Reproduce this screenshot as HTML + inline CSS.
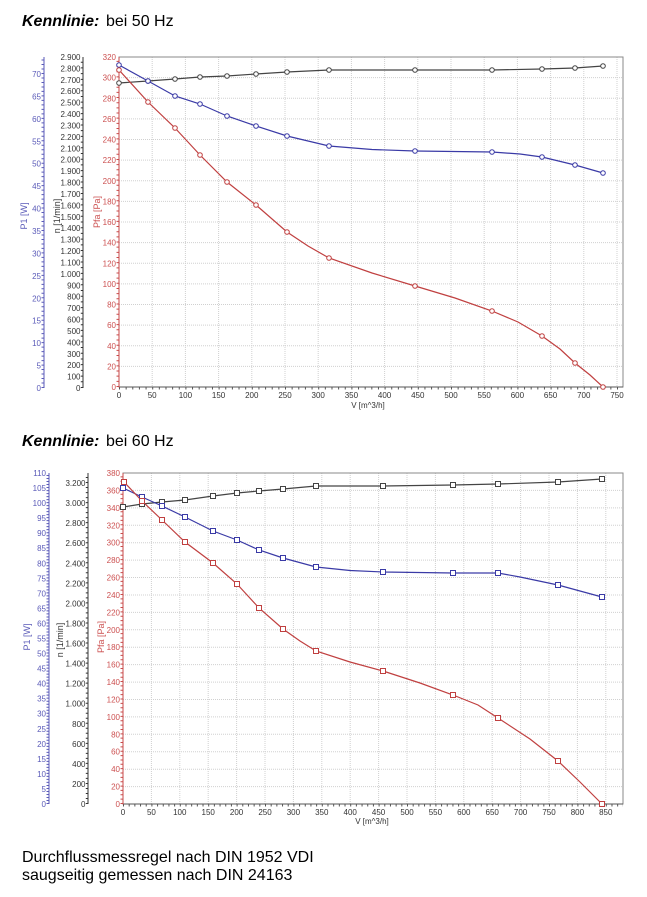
<!DOCTYPE html>
<html><head><meta charset="utf-8"><style>
html,body{margin:0;padding:0;background:#fff;}
svg{display:block;}
text{font-family:"Liberation Sans",Arial,sans-serif;}
.t{font-size:8px;}
.pb{fill:#5a5ab8;}
.nb{fill:#333;}
.rb{fill:#cc5050;}
.e{text-anchor:end;}
.m{text-anchor:middle;}
.g{stroke:#d0d0d0;stroke-width:1;stroke-dasharray:1 1;fill:none;}
</style></head><body>
<svg width="647" height="897" viewBox="0 0 647 897" xmlns="http://www.w3.org/2000/svg">
<rect width="647" height="897" fill="#fff"/>

<!-- Titles -->
<text x="22" y="26" font-size="16"><tspan font-weight="bold" font-style="italic">Kennlinie:</tspan><tspan x="106">bei 50 Hz</tspan></text>
<text x="22" y="446" font-size="16"><tspan font-weight="bold" font-style="italic">Kennlinie:</tspan><tspan x="106">bei 60 Hz</tspan></text>
<text x="22" y="862" font-size="16">Durchflussmessregel nach DIN 1952 VDI</text>
<text x="22" y="880" font-size="16">saugseitig gemessen nach DIN 24163</text>

<!-- ================= TOP CHART ================= -->
<g class="g">
<path d="M152.2 57V387M185.4 57V387M218.6 57V387M251.8 57V387M285 57V387M318.2 57V387M351.4 57V387M384.6 57V387M417.8 57V387M451 57V387M484.2 57V387M517.4 57V387M550.6 57V387M583.8 57V387M617 57V387"/>
<path d="M119 366.4H623M119 345.8H623M119 325.1H623M119 304.5H623M119 283.9H623M119 263.3H623M119 242.6H623M119 222H623M119 201.4H623M119 180.8H623M119 160.1H623M119 139.5H623M119 118.9H623M119 98.3H623M119 77.6H623"/>
</g>
<rect x="119" y="57" width="504" height="330" fill="none" stroke="#8a8a8a" stroke-width="1"/>
<line x1="119" y1="387" x2="623" y2="387" stroke="#555" stroke-width="1"/>
<line x1="119" y1="57" x2="119" y2="387.5" stroke="#c84a4a" stroke-width="1"/>
<line x1="117.5" y1="387" x2="117.5" y2="57" stroke="#c84a4a" stroke-width="2" stroke-dasharray="1 4.16"/>
<line x1="119" y1="388.5" x2="623" y2="388.5" stroke="#555" stroke-width="2" stroke-dasharray="1 5.64"/>
<!-- P1 axis -->
<line x1="44" y1="57" x2="44" y2="388" stroke="#5a5ab8" stroke-width="1"/>
<line x1="42.5" y1="388" x2="42.5" y2="57" stroke="#5a5ab8" stroke-width="2" stroke-dasharray="1 3.486"/>
<!-- n axis -->
<line x1="83" y1="57" x2="83" y2="388" stroke="#333" stroke-width="1"/>
<line x1="81.8" y1="388" x2="81.8" y2="57" stroke="#333" stroke-width="2" stroke-dasharray="1 4.707"/>

<g class="t pb e">
<text x="41" y="391">0</text><text x="41" y="368.6">5</text><text x="41" y="346.1">10</text><text x="41" y="323.7">15</text><text x="41" y="301.3">20</text><text x="41" y="278.9">25</text><text x="41" y="256.4">30</text><text x="41" y="234">35</text><text x="41" y="211.6">40</text><text x="41" y="189.1">45</text><text x="41" y="166.7">50</text><text x="41" y="144.3">55</text><text x="41" y="121.8">60</text><text x="41" y="99.4">65</text><text x="41" y="77">70</text>
</g>
<g class="t nb e">
<text x="80.5" y="391">0</text><text x="80.5" y="379.6">100</text><text x="80.5" y="368.2">200</text><text x="80.5" y="356.8">300</text><text x="80.5" y="345.3">400</text><text x="80.5" y="333.9">500</text><text x="80.5" y="322.5">600</text><text x="80.5" y="311.1">700</text><text x="80.5" y="299.7">800</text><text x="80.5" y="288.3">900</text><text x="80.5" y="276.9">1.000</text><text x="80.5" y="265.4">1.100</text><text x="80.5" y="254">1.200</text><text x="80.5" y="242.6">1.300</text><text x="80.5" y="231.2">1.400</text><text x="80.5" y="219.8">1.500</text><text x="80.5" y="208.4">1.600</text><text x="80.5" y="197">1.700</text><text x="80.5" y="185.5">1.800</text><text x="80.5" y="174.1">1.900</text><text x="80.5" y="162.7">2.000</text><text x="80.5" y="151.3">2.100</text><text x="80.5" y="139.9">2.200</text><text x="80.5" y="128.5">2.300</text><text x="80.5" y="117.1">2.400</text><text x="80.5" y="105.7">2.500</text><text x="80.5" y="94.2">2.600</text><text x="80.5" y="82.8">2.700</text><text x="80.5" y="71.4">2.800</text><text x="80.5" y="60">2.900</text>
</g>
<g class="t rb e">
<text x="116" y="390">0</text><text x="116" y="369.4">20</text><text x="116" y="348.8">40</text><text x="116" y="328.1">60</text><text x="116" y="307.5">80</text><text x="116" y="286.9">100</text><text x="116" y="266.3">120</text><text x="116" y="245.6">140</text><text x="116" y="225">160</text><text x="116" y="204.4">180</text><text x="116" y="183.8">200</text><text x="116" y="163.1">220</text><text x="116" y="142.5">240</text><text x="116" y="121.9">260</text><text x="116" y="101.3">280</text><text x="116" y="80.6">300</text><text x="116" y="60">320</text>
</g>
<g class="t nb m">
<text x="119" y="398">0</text><text x="152.2" y="398">50</text><text x="185.4" y="398">100</text><text x="218.6" y="398">150</text><text x="251.8" y="398">200</text><text x="285" y="398">250</text><text x="318.2" y="398">300</text><text x="351.4" y="398">350</text><text x="384.6" y="398">400</text><text x="417.8" y="398">450</text><text x="451" y="398">500</text><text x="484.2" y="398">550</text><text x="517.4" y="398">600</text><text x="550.6" y="398">650</text><text x="583.8" y="398">700</text><text x="617" y="398">750</text>
<text x="368" y="408">V [m^3/h]</text>
</g>
<text transform="translate(27,216) rotate(-90)" class="m" font-size="9" fill="#5a5ab8">P1 [W]</text>
<text transform="translate(60,216) rotate(-90)" class="m" font-size="9" fill="#333">n [1/min]</text>
<text transform="translate(100,212) rotate(-90)" class="m" font-size="9" fill="#cc5050">Pfa [Pa]</text>

<!-- curves top -->
<polyline fill="none" stroke="#444" stroke-width="1.2" points="119,83 148,81 175,79 200,77 227,76 256,74 287,72 329,70 415,70 492,70 542,69 575,68 603,66"/>
<polyline fill="none" stroke="#3a3aa6" stroke-width="1.2" points="119,65 148,81 175,96 200,104 227,116 256,126 287,136 329,146 372,149.5 415,151 492,152 520,154 542,157 575,165 603,173"/>
<polyline fill="none" stroke="#c04040" stroke-width="1.2" points="119,70 148,102 175,128 200,155 227,182 256,205 287,232 308,246 329,258 372,273 415,286 455,298 492,311 518,322 542,336 560,349 575,363 590,375 603,387"/>
<g fill="#fff" stroke-width="1">
<g stroke="#444"><circle cx="119" cy="83" r="2.3"/><circle cx="148" cy="81" r="2.3"/><circle cx="175" cy="79" r="2.3"/><circle cx="200" cy="77" r="2.3"/><circle cx="227" cy="76" r="2.3"/><circle cx="256" cy="74" r="2.3"/><circle cx="287" cy="72" r="2.3"/><circle cx="329" cy="70" r="2.3"/><circle cx="415" cy="70" r="2.3"/><circle cx="492" cy="70" r="2.3"/><circle cx="542" cy="69" r="2.3"/><circle cx="575" cy="68" r="2.3"/><circle cx="603" cy="66" r="2.3"/></g>
<g stroke="#3a3aa6"><circle cx="119" cy="65" r="2.3"/><circle cx="148" cy="81" r="2.3"/><circle cx="175" cy="96" r="2.3"/><circle cx="200" cy="104" r="2.3"/><circle cx="227" cy="116" r="2.3"/><circle cx="256" cy="126" r="2.3"/><circle cx="287" cy="136" r="2.3"/><circle cx="329" cy="146" r="2.3"/><circle cx="415" cy="151" r="2.3"/><circle cx="492" cy="152" r="2.3"/><circle cx="542" cy="157" r="2.3"/><circle cx="575" cy="165" r="2.3"/><circle cx="603" cy="173" r="2.3"/></g>
<g stroke="#c04040"><circle cx="119" cy="70" r="2.3"/><circle cx="148" cy="102" r="2.3"/><circle cx="175" cy="128" r="2.3"/><circle cx="200" cy="155" r="2.3"/><circle cx="227" cy="182" r="2.3"/><circle cx="256" cy="205" r="2.3"/><circle cx="287" cy="232" r="2.3"/><circle cx="329" cy="258" r="2.3"/><circle cx="415" cy="286" r="2.3"/><circle cx="492" cy="311" r="2.3"/><circle cx="542" cy="336" r="2.3"/><circle cx="575" cy="363" r="2.3"/><circle cx="603" cy="387" r="2.3"/></g>
</g>

<!-- ================= BOTTOM CHART ================= -->
<g class="g">
<path d="M151.4 473V804M179.8 473V804M208.2 473V804M236.6 473V804M265 473V804M293.4 473V804M321.8 473V804M350.2 473V804M378.6 473V804M407 473V804M435.4 473V804M463.8 473V804M492.2 473V804M520.6 473V804M549 473V804M577.4 473V804M605.8 473V804"/>
<path d="M123 786.6H623M123 769.2H623M123 751.7H623M123 734.3H623M123 716.9H623M123 699.5H623M123 682.1H623M123 664.6H623M123 647.2H623M123 629.8H623M123 612.4H623M123 595H623M123 577.5H623M123 560.1H623M123 542.7H623M123 525.3H623M123 507.9H623M123 490.4H623"/>
</g>
<rect x="123" y="473" width="500" height="331" fill="none" stroke="#8a8a8a" stroke-width="1"/>
<line x1="123" y1="804" x2="623" y2="804" stroke="#555" stroke-width="1"/>
<line x1="123" y1="473" x2="123" y2="804.5" stroke="#c84a4a" stroke-width="1"/>
<line x1="121.5" y1="804" x2="121.5" y2="473" stroke="#c84a4a" stroke-width="2" stroke-dasharray="1 3.355"/>
<line x1="123" y1="805.5" x2="623" y2="805.5" stroke="#555" stroke-width="2" stroke-dasharray="1 4.68"/>
<line x1="49" y1="473" x2="49" y2="804" stroke="#5a5ab8" stroke-width="1"/>
<line x1="47.5" y1="804" x2="47.5" y2="473" stroke="#5a5ab8" stroke-width="2" stroke-dasharray="1 2.009"/>
<line x1="88" y1="473" x2="88" y2="804" stroke="#333" stroke-width="1"/>
<line x1="86.8" y1="804" x2="86.8" y2="473" stroke="#333" stroke-width="2" stroke-dasharray="1 4.015"/>

<g class="t pb e">
<text x="46" y="807">0</text><text x="46" y="792">5</text><text x="46" y="776.9">10</text><text x="46" y="761.9">15</text><text x="46" y="746.8">20</text><text x="46" y="731.8">25</text><text x="46" y="716.7">30</text><text x="46" y="701.7">35</text><text x="46" y="686.6">40</text><text x="46" y="671.6">45</text><text x="46" y="656.5">50</text><text x="46" y="641.5">55</text><text x="46" y="626.5">60</text><text x="46" y="611.4">65</text><text x="46" y="596.4">70</text><text x="46" y="581.3">75</text><text x="46" y="566.3">80</text><text x="46" y="551.2">85</text><text x="46" y="536.2">90</text><text x="46" y="521.1">95</text><text x="46" y="506.1">100</text><text x="46" y="491.1">105</text><text x="46" y="476">110</text>
</g>
<g class="t nb e">
<text x="85.5" y="807">0</text><text x="85.5" y="786.9">200</text><text x="85.5" y="766.9">400</text><text x="85.5" y="746.8">600</text><text x="85.5" y="726.8">800</text><text x="85.5" y="706.7">1.000</text><text x="85.5" y="686.6">1.200</text><text x="85.5" y="666.6">1.400</text><text x="85.5" y="646.5">1.600</text><text x="85.5" y="626.5">1.800</text><text x="85.5" y="606.4">2.000</text><text x="85.5" y="586.3">2.200</text><text x="85.5" y="566.3">2.400</text><text x="85.5" y="546.2">2.600</text><text x="85.5" y="526.2">2.800</text><text x="85.5" y="506.1">3.000</text><text x="85.5" y="486">3.200</text>
</g>
<g class="t rb e">
<text x="120" y="807">0</text><text x="120" y="789.6">20</text><text x="120" y="772.2">40</text><text x="120" y="754.7">60</text><text x="120" y="737.3">80</text><text x="120" y="719.9">100</text><text x="120" y="702.5">120</text><text x="120" y="685.1">140</text><text x="120" y="667.6">160</text><text x="120" y="650.2">180</text><text x="120" y="632.8">200</text><text x="120" y="615.4">220</text><text x="120" y="598">240</text><text x="120" y="580.5">260</text><text x="120" y="563.1">280</text><text x="120" y="545.7">300</text><text x="120" y="528.3">320</text><text x="120" y="510.9">340</text><text x="120" y="493.4">360</text><text x="120" y="476">380</text>
</g>
<g class="t nb m">
<text x="123" y="815">0</text><text x="151.4" y="815">50</text><text x="179.8" y="815">100</text><text x="208.2" y="815">150</text><text x="236.6" y="815">200</text><text x="265" y="815">250</text><text x="293.4" y="815">300</text><text x="321.8" y="815">350</text><text x="350.2" y="815">400</text><text x="378.6" y="815">450</text><text x="407" y="815">500</text><text x="435.4" y="815">550</text><text x="463.8" y="815">600</text><text x="492.2" y="815">650</text><text x="520.6" y="815">700</text><text x="549" y="815">750</text><text x="577.4" y="815">800</text><text x="605.8" y="815">850</text>
<text x="372" y="824">V [m^3/h]</text>
</g>
<text transform="translate(30,637) rotate(-90)" class="m" font-size="9" fill="#5a5ab8">P1 [W]</text>
<text transform="translate(63,640) rotate(-90)" class="m" font-size="9" fill="#333">n [1/min]</text>
<text transform="translate(104,637) rotate(-90)" class="m" font-size="9" fill="#cc5050">Pfa [Pa]</text>

<polyline fill="none" stroke="#444" stroke-width="1.2" points="123,507 142,504 162,502 185,500 213,496 237,493 259,491 283,489 316,486 383,486 453,485 498,484 558,482 602,479"/>
<polyline fill="none" stroke="#3a3aa6" stroke-width="1.2" points="123,488 142,497 162,506 185,517 213,531 237,540 259,550 283,558 316,567 350,570.5 383,572 453,573 498,573 520,577 558,585 602,597"/>
<polyline fill="none" stroke="#c04040" stroke-width="1.2" points="124,482 142,501 162,520 185,542 213,563 237,584 259,608 283,629 300,641 316,651 350,662 383,671 420,683 453,695 478,705 498,718 530,739 558,761 580,782 602,804"/>
<g fill="#fff" stroke-width="1">
<g stroke="#444"><rect x="120.5" y="504.5" width="5" height="5"/><rect x="139.5" y="501.5" width="5" height="5"/><rect x="159.5" y="499.5" width="5" height="5"/><rect x="182.5" y="497.5" width="5" height="5"/><rect x="210.5" y="493.5" width="5" height="5"/><rect x="234.5" y="490.5" width="5" height="5"/><rect x="256.5" y="488.5" width="5" height="5"/><rect x="280.5" y="486.5" width="5" height="5"/><rect x="313.5" y="483.5" width="5" height="5"/><rect x="380.5" y="483.5" width="5" height="5"/><rect x="450.5" y="482.5" width="5" height="5"/><rect x="495.5" y="481.5" width="5" height="5"/><rect x="555.5" y="479.5" width="5" height="5"/><rect x="599.5" y="476.5" width="5" height="5"/></g>
<g stroke="#3a3aa6"><rect x="120.5" y="485.5" width="5" height="5"/><rect x="139.5" y="494.5" width="5" height="5"/><rect x="159.5" y="503.5" width="5" height="5"/><rect x="182.5" y="514.5" width="5" height="5"/><rect x="210.5" y="528.5" width="5" height="5"/><rect x="234.5" y="537.5" width="5" height="5"/><rect x="256.5" y="547.5" width="5" height="5"/><rect x="280.5" y="555.5" width="5" height="5"/><rect x="313.5" y="564.5" width="5" height="5"/><rect x="380.5" y="569.5" width="5" height="5"/><rect x="450.5" y="570.5" width="5" height="5"/><rect x="495.5" y="570.5" width="5" height="5"/><rect x="555.5" y="582.5" width="5" height="5"/><rect x="599.5" y="594.5" width="5" height="5"/></g>
<g stroke="#c04040"><rect x="121.5" y="479.5" width="5" height="5"/><rect x="139.5" y="498.5" width="5" height="5"/><rect x="159.5" y="517.5" width="5" height="5"/><rect x="182.5" y="539.5" width="5" height="5"/><rect x="210.5" y="560.5" width="5" height="5"/><rect x="234.5" y="581.5" width="5" height="5"/><rect x="256.5" y="605.5" width="5" height="5"/><rect x="280.5" y="626.5" width="5" height="5"/><rect x="313.5" y="648.5" width="5" height="5"/><rect x="380.5" y="668.5" width="5" height="5"/><rect x="450.5" y="692.5" width="5" height="5"/><rect x="495.5" y="715.5" width="5" height="5"/><rect x="555.5" y="758.5" width="5" height="5"/><rect x="599.5" y="801.5" width="5" height="5"/></g>
</g>
</svg>
</body></html>
